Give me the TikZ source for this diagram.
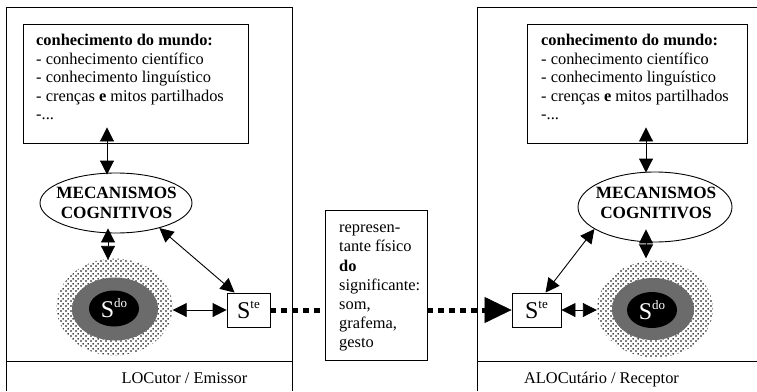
\documentclass[tikz,border=0pt]{standalone}
\usepackage{fontspec}
\setmainfont{Liberation Serif}
\usetikzlibrary{arrows.meta,shapes.geometric,patterns}

\pgfdeclarepatternformonly{sparsedots}{\pgfqpoint{0pt}{0pt}}{\pgfqpoint{5pt}{5pt}}{\pgfqpoint{5pt}{5pt}}{%
  \pgfpathcircle{\pgfqpoint{1.25pt}{1.25pt}}{1.05pt}%
  \pgfpathcircle{\pgfqpoint{3.75pt}{3.75pt}}{1.05pt}%
  \pgfusepath{fill}}

\tikzset{
  frame/.style={line width=0.9pt},
  box/.style={draw, rectangle, line width=0.9pt, inner sep=0pt},
  mech/.style={draw, ellipse, line width=0.9pt, inner sep=0pt},
  mechtext/.style={font=\bfseries\fontsize{17.2}{20}\selectfont, align=center, inner sep=0pt},
  body/.style={font=\fontsize{16.4}{18.5}\selectfont, align=left, inner sep=0pt, anchor=north west},
  midbody/.style={font=\fontsize{16.4}{19.2}\selectfont, align=left, inner sep=0pt, anchor=north west},
  label/.style={font=\fontsize{16.4}{18.5}\selectfont, inner sep=0pt, anchor=base},
  outerS/.style={ellipse, pattern=sparsedots, inner sep=0pt},
  midS/.style={ellipse, fill=black!58, inner sep=0pt},
  coreS/.style={ellipse, fill=black, text=white, inner sep=0pt},
  dbl/.style={{Triangle[length=14pt,width=14pt]}-{Triangle[length=14pt,width=14pt]}, line width=0.9pt},
  dotline/.style={line width=5pt, dash pattern=on 6pt off 5pt},
  bigtip/.style={-{Triangle[length=27pt,width=26pt]}, line width=0.5pt},
}
\newcommand{\sgn}[1]{{\fontsize{24}{24}\selectfont S}\raisebox{10pt}{\fontsize{13}{13}\selectfont #1}}

\begin{document}
\begin{tikzpicture}[x=1pt,y=-1pt]
\useasboundingbox (0,0) rectangle (757,391);

% outer frames
\draw[frame] (6.5,391) |- (292,7) -- (292,391);
\draw[frame] (6.5,361) -- (292,361);
\draw[frame] (477,391) |- (757,7);
\draw[frame] (477,361) -- (757,361);

% knowledge boxes
\node[box, minimum width=225pt, minimum height=119pt] (kbL) at (135.5,83.5) {};
\node[body] (kbLt) at (36,34.2) {\vphantom{h}\textbf{conhecimento do mundo:}\\- conhecimento científico\\- conhecimento linguístico\\- crenças \textbf{e} mitos partilhados\\-...};
\node[box, minimum width=220pt, minimum height=119pt] (kbR) at (637,83.5) {};
\node[body] (kbRt) at (541,34.2) {\vphantom{h}\textbf{conhecimento do mundo:}\\- conhecimento científico\\- conhecimento linguístico\\- crenças \textbf{e} mitos partilhados\\-...};

% mechanisms
\node[mech, minimum width=152pt, minimum height=60pt] (mechL) at (116,203) {};
\node[mechtext] (mechLt) at (116.5,203) {MECANISMOS\\COGNITIVOS};
\node[mech, minimum width=154pt, minimum height=70pt] (mechR) at (655,207) {};
\node[mechtext] (mechRt) at (656,203) {MECANISMOS\\COGNITIVOS};

% signified
\node[outerS, minimum width=116pt, minimum height=97pt] (sdoL) at (114.5,307) {};
\node[midS, minimum width=86pt, minimum height=63pt] (sdoLg) at (115,309) {};
\node[coreS, minimum width=50pt, minimum height=36pt] (sdoLb) at (114,308.5) {\sgn{do}};
\node[outerS, minimum width=116pt, minimum height=97pt] (sdoR) at (655,309) {};
\node[midS, minimum width=82pt, minimum height=62pt] (sdoRg) at (653,309) {};
\node[coreS, minimum width=50pt, minimum height=36pt] (sdoRb) at (652,310) {\sgn{do}};

% signifiers
\node[box, minimum width=43pt, minimum height=34pt] (steL) at (248.5,310) {\sgn{te}};
\node[box, minimum width=49pt, minimum height=34pt] (steR) at (536.5,310) {\sgn{te}};

% middle box
\node[box, minimum width=102pt, minimum height=150pt] (mid) at (376,285) {};
\node[midbody] (midt) at (339,221.1) {\vphantom{h}represen-\\tante físico\\\textbf{do}\\significante:\\som,\\grafema,\\gesto};

% labels
\node[label] (lblL) at (184.5,383) {LOCutor / Emissor};
\node[label] (lblR) at (601.5,383) {ALOCutário / Receptor};

% connectors left
\draw[dbl] ([shift={(-28.5pt,16pt)}]kbL.south) -- ([shift={(-9pt,-2pt)}]mechL.north);
\draw[dbl] ([shift={(-8pt,5pt)}]mechL.south) -- ([shift={(-6.5pt,-1.5pt)}]sdoL.north);
\draw[dbl] (mechL.-30) -- ([xshift=8pt]steL.north west);
\draw[dbl] (steL.west -| sdoL.east) -- (steL.west);
\draw[dotline] (steL.east) -- (steL.east -| mid.west);

% connectors right
\draw[dotline] (steR.west -| mid.east) -- ([xshift=-26pt]steR.west);
\draw[bigtip] ([xshift=-27pt]steR.west) -- (steR.west);
\draw[dbl] ([xshift=9pt]steR.north) -- (mechR.200);
\draw[dbl] (steR.east) -- (steR.east -| sdoR.west);
\draw[dbl] ([shift={(-9pt,13pt)}]mechR.south) -- ([shift={(-9pt,2pt)}]sdoR.north);
\draw[dbl] ([shift={(9pt,16pt)}]kbR.south) -- ([shift={(-9pt,-1pt)}]mechR.north);
\end{tikzpicture}
\end{document}
